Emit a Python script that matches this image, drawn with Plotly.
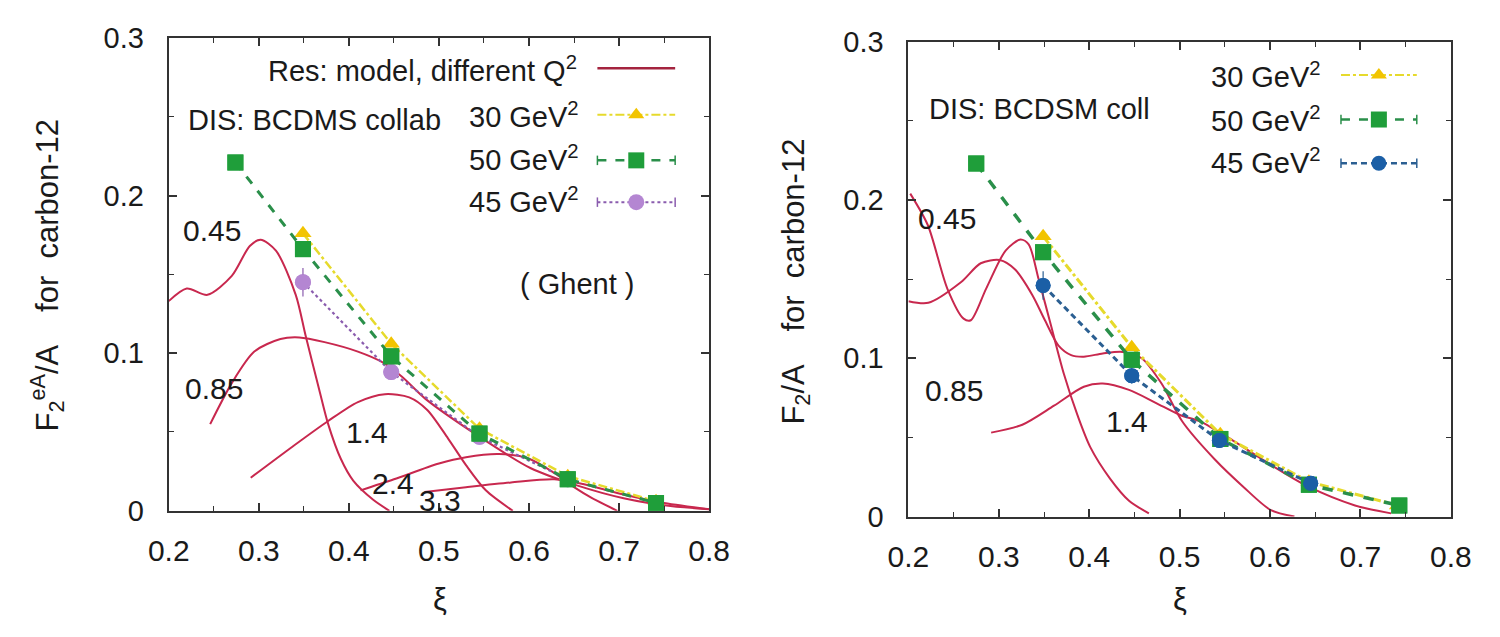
import plotly.graph_objects as go

# ---------------- DATA ----------------
x_ticks = [0.2, 0.3, 0.4, 0.5, 0.6, 0.7, 0.8]
x_ticktext = ["0.2", "0.3", "0.4", "0.5", "0.6", "0.7", "0.8"]
y_ticks = [0, 0.1, 0.2, 0.3]
y_ticktext = ["0", "0.1", "0.2", "0.3"]

# Left panel: resonance model curves for different Q^2 (GeV^2)
L_q045_x = [0.200, 0.220, 0.243, 0.270, 0.290, 0.302, 0.319, 0.341, 0.352, 0.367, 0.377, 0.391, 0.405, 0.427, 0.445]
L_q045_y = [0.133, 0.141, 0.137, 0.149, 0.168, 0.172, 0.165, 0.137, 0.111, 0.077, 0.055, 0.033, 0.019, 0.007, 0.000]
L_q085_x = [0.246, 0.270, 0.295, 0.324, 0.345, 0.373, 0.410, 0.438, 0.459, 0.485, 0.545, 0.602, 0.654, 0.705, 0.757, 0.800]
L_q085_y = [0.055, 0.081, 0.101, 0.109, 0.110, 0.107, 0.101, 0.094, 0.085, 0.071, 0.047, 0.027, 0.016, 0.008, 0.003, 0.001]
L_q14_x = [0.291, 0.338, 0.377, 0.410, 0.440, 0.467, 0.487, 0.510, 0.530, 0.552, 0.582]
L_q14_y = [0.021, 0.041, 0.057, 0.069, 0.074, 0.072, 0.064, 0.046, 0.029, 0.013, 0.000]
L_q24_x = [0.413, 0.450, 0.500, 0.530, 0.567, 0.600, 0.628, 0.650, 0.670, 0.698]
L_q24_y = [0.013, 0.020, 0.030, 0.034, 0.036, 0.033, 0.024, 0.015, 0.008, 0.000]
L_q33_x = [0.484, 0.530, 0.580, 0.628, 0.660, 0.700, 0.750, 0.800]
L_q33_y = [0.012, 0.015, 0.018, 0.020, 0.017, 0.011, 0.005, 0.001]

# Left panel: DIS data (BCDMS)
L_d30_x = [0.349, 0.447, 0.545, 0.643, 0.741]
L_d30_y = [0.176, 0.106, 0.052, 0.022, 0.006]
L_d50_x = [0.274, 0.349, 0.447, 0.545, 0.643, 0.741]
L_d50_y = [0.221, 0.166, 0.098, 0.049, 0.020, 0.005]
L_d50_e = [0.003, 0.003, 0.003, 0.002, 0.001, 0.001]
L_d45_x = [0.349, 0.447, 0.545, 0.643]
L_d45_y = [0.145, 0.088, 0.047, 0.020]
L_d45_e = [0.009, 0.005, 0.003, 0.002]

# Right panel: model curves
R_q045_x = [0.202, 0.2215, 0.243, 0.261, 0.269, 0.286, 0.3075, 0.324, 0.333, 0.344, 0.358, 0.372, 0.387, 0.401, 0.423, 0.444, 0.466]
R_q045_y = [0.204, 0.184, 0.144, 0.125, 0.124, 0.144, 0.168, 0.175, 0.172, 0.150, 0.120, 0.090, 0.064, 0.044, 0.024, 0.010, 0.002]
R_q085_x = [0.200, 0.222, 0.258, 0.280, 0.301, 0.318, 0.337, 0.351, 0.366, 0.380, 0.394, 0.415, 0.437, 0.458, 0.480, 0.503, 0.539, 0.570, 0.601, 0.627]
R_q085_y = [0.136, 0.135, 0.148, 0.160, 0.162, 0.156, 0.140, 0.124, 0.108, 0.102, 0.101, 0.103, 0.104, 0.100, 0.084, 0.060, 0.036, 0.019, 0.004, 0.000]
R_q14_x = [0.2915, 0.326, 0.361, 0.394, 0.415, 0.444, 0.473, 0.501, 0.523, 0.559, 0.600, 0.642, 0.694, 0.734]
R_q14_y = [0.053, 0.058, 0.070, 0.082, 0.084, 0.080, 0.072, 0.064, 0.060, 0.048, 0.033, 0.019, 0.007, 0.002]

# Right panel: DIS data
R_d30_x = [0.349, 0.447, 0.545, 0.643, 0.741]
R_d30_y = [0.177, 0.107, 0.052, 0.022, 0.007]
R_d50_x = [0.275, 0.349, 0.447, 0.545, 0.643, 0.743]
R_d50_y = [0.223, 0.167, 0.099, 0.049, 0.020, 0.007]
R_d50_e = [0.003, 0.003, 0.003, 0.002, 0.001, 0.001]
R_d45_x = [0.349, 0.447, 0.544, 0.645]
R_d45_y = [0.146, 0.089, 0.048, 0.021]
R_d45_e = [0.009, 0.005, 0.003, 0.002]

left_curve_labels = ["0.45", "0.85", "1.4", "2.4", "3.3"]
right_curve_labels = ["0.45", "0.85", "1.4"]
data_labels = ["30 GeV<sup>2</sup>", "50 GeV<sup>2</sup>", "45 GeV<sup>2</sup>"]

# ---------------- STYLE ----------------
W, H = 1500, 637
FONT = "Liberation Sans"
TXT = "#1a1a1a"
RED = "#c8284e"
YEL_L, YEL_M = "#e6da2c", "#f2c400"
GRN_L, GRN_M = "#2a8f4a", "#1f9e3a"
PUR_L, PUR_M = "#8a5cae", "#b486d2"
BLU_L, BLU_M = "#2b5f92", "#1b5fa6"

fig = go.Figure()

def curve(x, y, xa, ya):
    fig.add_trace(go.Scatter(x=x, y=y, mode="lines", line=dict(color=RED, width=2, shape="spline", smoothing=0.8),
                             xaxis=xa, yaxis=ya, showlegend=False, hoverinfo="skip"))

for cx, cy in [(L_q045_x, L_q045_y), (L_q085_x, L_q085_y), (L_q14_x, L_q14_y), (L_q24_x, L_q24_y), (L_q33_x, L_q33_y)]:
    curve(cx, cy, "x", "y")
for cx, cy in [(R_q045_x, R_q045_y), (R_q085_x, R_q085_y), (R_q14_x, R_q14_y)]:
    curve(cx, cy, "x2", "y2")

def data(x, y, e, xa, ya, lcolor, ldash, lwidth, mcolor, msym, msize):
    fig.add_trace(go.Scatter(x=x, y=y, mode="lines+markers", xaxis=xa, yaxis=ya, showlegend=False,
                             line=dict(color=lcolor, dash=ldash, width=lwidth),
                             marker=dict(color=mcolor, symbol=msym, size=msize, line=dict(width=0))))
    if e is not None:
        fig.add_trace(go.Scatter(x=x, y=y, mode="markers", xaxis=xa, yaxis=ya, showlegend=False,
                                 marker=dict(color=mcolor, symbol=msym, size=msize, line=dict(width=0)),
                                 error_y=dict(type="data", array=e, color=lcolor, thickness=1.2, width=0)))

# left data
data(L_d45_x, L_d45_y, L_d45_e, "x", "y", PUR_L, "dot", 2.2, PUR_M, "circle", 16)
data(L_d30_x, L_d30_y, None, "x", "y", YEL_L, "dashdot", 2.5, YEL_M, "triangle-up", 15)
data(L_d50_x, L_d50_y, L_d50_e, "x", "y", GRN_L, "dash", 3, GRN_M, "square", 16)
# right data
data(R_d30_x, R_d30_y, None, "x2", "y2", YEL_L, "dashdot", 3, YEL_M, "triangle-up", 15)
data(R_d50_x, R_d50_y, R_d50_e, "x2", "y2", GRN_L, "dash", 3.5, GRN_M, "square", 16)
data(R_d45_x, R_d45_y, R_d45_e, "x2", "y2", BLU_L, "6px,4px", 3, BLU_M, "circle", 15)

# ---------------- legend keys (drawn on pixel overlay axis) ----------------
def key(x0, x1, yk, lcolor, ldash, lwidth, mcolor=None, msym=None, msize=0, caps=False):
    fig.add_trace(go.Scatter(x=[x0, x1], y=[yk, yk], mode="lines", line=dict(color=lcolor, dash=ldash, width=lwidth),
                             xaxis="x3", yaxis="y3", showlegend=False, hoverinfo="skip"))
    if caps:
        for xc in (x0, x1):
            fig.add_trace(go.Scatter(x=[xc, xc], y=[yk - 5, yk + 5], mode="lines", line=dict(color=lcolor, width=1.5),
                                     xaxis="x3", yaxis="y3", showlegend=False, hoverinfo="skip"))
    if msym:
        fig.add_trace(go.Scatter(x=[(x0 + x1) / 2], y=[yk], mode="markers",
                                 marker=dict(color=mcolor, symbol=msym, size=msize, line=dict(width=0)),
                                 xaxis="x3", yaxis="y3", showlegend=False, hoverinfo="skip"))

key(593, 673, 55, "#a4243f", "solid", 2.5)
key(593, 673, 104, YEL_L, "dashdot", 2, YEL_M, "triangle-up", 14)
key(593, 673, 152, GRN_L, "dash", 2.5, GRN_M, "square", 16, caps=True)
key(593, 673, 196, PUR_L, "dot", 2, PUR_M, "circle", 16, caps=True)

key(1358, 1436, 62, YEL_L, "dashdot", 2, YEL_M, "triangle-up", 14)
key(1358, 1436, 109, GRN_L, "dash", 2.5, GRN_M, "square", 16, caps=True)
key(1358, 1436, 155, BLU_L, "6px,4px", 2.5, BLU_M, "circle", 15, caps=True)

# ---------------- axes ----------------
def ax_common():
    return dict(showline=True, linecolor="#333", linewidth=2, mirror="ticks", ticks="inside", ticklen=8,
                tickwidth=1.5, tickcolor="#333", showgrid=False, zeroline=False,
                minor=dict(ticks="inside", ticklen=5, tickcolor="#333", tickwidth=1.2, showgrid=False, nticks=2))

xa = ax_common()
xa.update(range=[x_ticks[0], x_ticks[-1]], tickmode="linear", tick0=x_ticks[0],
          dtick=round(x_ticks[1] - x_ticks[0], 3), tickformat=".1f", ticklabelstandoff=12,
          tickfont=dict(family=FONT, size=30, color=TXT))
ya = ax_common()
ya.update(range=[y_ticks[0], y_ticks[-1]], tickmode="linear", tick0=y_ticks[0],
          dtick=round(y_ticks[1] - y_ticks[0], 3), ticklabelstandoff=17,
          tickfont=dict(family=FONT, size=29, color=TXT))

fig.update_layout(
    width=W, height=H, margin=dict(l=0, r=0, t=0, b=0),
    paper_bgcolor="white", plot_bgcolor="rgba(0,0,0,0)", showlegend=False,
    xaxis=dict(xa, domain=[152 / W, 708 / W], anchor="y"),
    yaxis=dict(ya, domain=[1 - 521 / H, 1 - 23 / H], anchor="x"),
    xaxis2=dict(xa, domain=[913 / W, 1471 / W], anchor="y2"),
    yaxis2=dict(ya, domain=[1 - 527 / H, 1 - 27 / H], anchor="x2"),
    xaxis3=dict(domain=[0, 1], range=[0, W], visible=False, fixedrange=True, anchor="y3"),
    yaxis3=dict(domain=[0, 1], range=[H, 0], visible=False, fixedrange=True, anchor="x3"),
)

def ann(text, x, y, xanchor="center", size=29, angle=0):
    fig.add_annotation(text=text, x=x, y=y, xref="x3", yref="y3", xanchor=xanchor, yanchor="middle",
                       showarrow=False, textangle=angle, font=dict(family=FONT, size=size, color=TXT))

# left annotations
ann("Res: model, different Q<sup>2</sup>", 574, 56, "right")
ann("DIS: BCDMS collab", 170, 110, "left")
for lab, yy in zip(data_labels, [104, 150, 194]):
    ann(lab, 576, yy, "right")
ann("( Ghent )", 572, 282)
for lab, (lx, ly) in zip(left_curve_labels, [(196, 226), (199, 392), (356, 439), (383, 492), (431, 510)]):
    ann(lab, lx, ly, size=30)
ann("F<sub>2</sub><sup>eA</sup>/A    for  carbon-12", 27, 273, size=31, angle=-90)
ann("ξ", 431, 614, size=31)

# right annotations
ann("DIS: BCDSM coll", 932, 98, "left")
for lab, yy in zip(data_labels, [62, 108, 153]):
    ann(lab, 1340, yy, "right")
for lab, (lx, ly) in zip(right_curve_labels, [(953, 213), (960, 394), (1138, 427)]):
    ann(lab, lx, ly, size=30)
ann("F<sub>2</sub>/A    for  carbon-12", 797, 280, size=31, angle=-90)
ann("ξ", 1192, 614, size=31)

fig.write_html("out.html")
